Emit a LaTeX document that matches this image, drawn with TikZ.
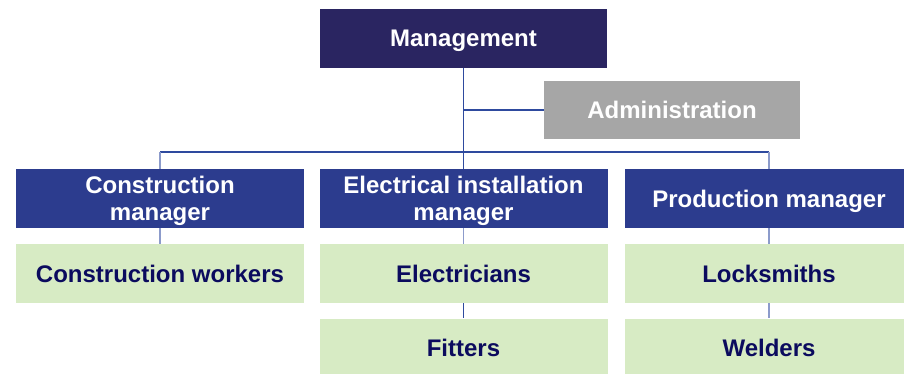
\documentclass[tikz,border=0pt]{standalone}
\usepackage{fontspec}
\setmainfont{Liberation Sans}
\definecolor{topfill}{HTML}{2A2561}
\definecolor{mgrfill}{HTML}{2C3C8E}
\definecolor{staffill}{HTML}{D7EBC4}
\definecolor{adminfill}{HTML}{A6A6A6}
\definecolor{stafftext}{HTML}{0B0B5E}
\definecolor{linkblue}{HTML}{2E4A9E}
\definecolor{linklight}{HTML}{8C9BCB}
\begin{document}
\begin{tikzpicture}[x=1pt,y=-1pt,
  box/.style={rectangle, inner sep=0pt, text depth=0pt, align=center, font=\fontsize{24}{27}\selectfont\bfseries},
  topbox/.style={box, fill=topfill, text=white, minimum width=287pt, minimum height=59pt},
  adminbox/.style={box, fill=adminfill, text=white, minimum width=256pt, minimum height=58pt},
  mgrbox/.style={box, fill=mgrfill, text=white, minimum width=288pt, minimum height=59pt},
  staffbox/.style={box, fill=staffill, text=stafftext, minimum width=288pt, minimum height=59pt},
  link/.style={draw=linkblue, line width=1.3pt},
  sublink/.style={draw=linklight, line width=1.3pt}]
\clip (0,0) rectangle (904,374);
\fill[white] (0,0) rectangle (904,374);

% boxes
\node[topbox]   (mgmt)  at (463.5,38.5) {Management};
\node[adminbox] (admin) at (672,110)    {Administration};
\node[mgrbox]   (cm)    at (160,198.5)  {Construction\\manager};
\node[mgrbox]   (em)    at (463.5,198.5){Electrical installation\\manager};
\node[mgrbox]   (pm)    at (769,198.5)  {Production manager};
\node[staffbox] (cw)    at (160,273.5)  {Construction workers};
\node[staffbox] (el)    at (463.5,273.5){Electricians};
\node[staffbox] (fi)    at (463.5,348)  {Fitters};
\node[staffbox] (lo)    at (769,273.5)  {Locksmiths};
\node[staffbox] (we)    at (769,348)    {Welders};

% reporting lines
\coordinate (hub) at (463.5,152);
\coordinate (lb) at (160,152);
\coordinate (rb) at (769,152);
\draw[link] (mgmt.south) -- (em.north);
\draw[link] (mgmt.south |- admin.west) -- (admin.west);
\draw[link] (lb) -- (rb);
\draw[sublink] (lb) -- (cm.north);
\draw[sublink] (rb) -- (pm.north);
\draw[sublink] (cm.south) -- (cw.north);
\draw[sublink] (em.south) -- (el.north);
\draw[link]    (el.south) -- (fi.north);
\draw[sublink] (pm.south) -- (lo.north);
\draw[sublink] (lo.south) -- (we.north);
\end{tikzpicture}
\end{document}
